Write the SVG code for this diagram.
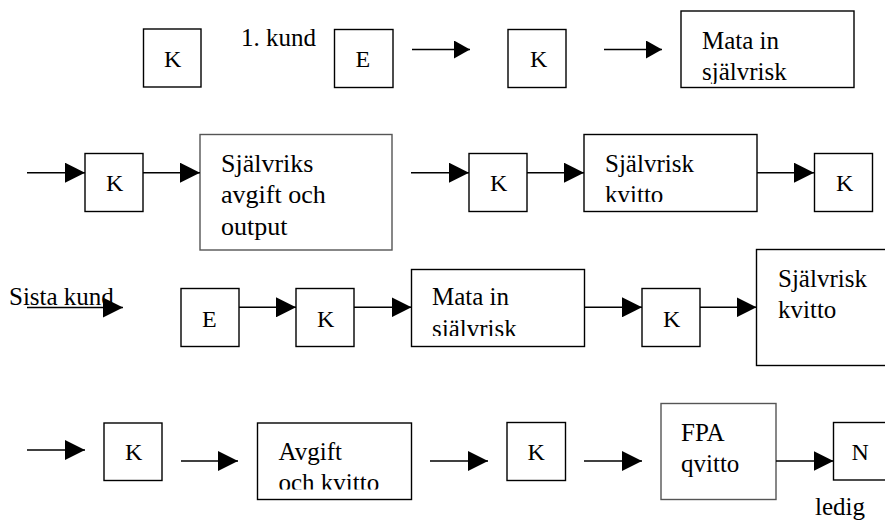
<svg xmlns="http://www.w3.org/2000/svg" width="885" height="521" viewBox="0 0 885 521">
<style>
.b{fill:#fff;stroke:#000;stroke-width:1.4}
.g{fill:#fff;stroke:#555;stroke-width:1.4}
.c line{stroke:#000;stroke-width:1.4;marker-end:url(#ah)}
.c line.s{marker-end:url(#as)}
</style>
<defs>
<marker id="ah" viewBox="0 0 20 20" refX="20" refY="10" markerWidth="20" markerHeight="20" markerUnits="userSpaceOnUse" orient="auto"><path d="M0,0L20,10L0,20z" fill="#000"/></marker>
<marker id="as" viewBox="0 0 16 18" refX="16" refY="9" markerWidth="16" markerHeight="18" markerUnits="userSpaceOnUse" orient="auto"><path d="M0,0L16,9L0,18z" fill="#000"/></marker>
<clipPath id="c1"><rect x="681" y="11" width="173" height="73"/></clipPath>
<clipPath id="c2"><rect x="584" y="134" width="173" height="68"/></clipPath>
<clipPath id="c3"><rect x="412" y="269" width="172" height="67"/></clipPath>
<clipPath id="c4"><rect x="258" y="423" width="154" height="66.5"/></clipPath>
</defs>
<g font-family="Liberation Serif" font-size="25" fill="#000">
<g id="r1k1"><rect class="b" x="143.5" y="29" width="57.5" height="58"/><text font-size="24" x="164" y="66.5">K</text></g>
<text id="kund1" x="241" y="46">1. kund</text>
<g id="r1e"><rect class="b" x="334.5" y="29.5" width="58.5" height="58"/><text font-size="24" x="355.5" y="66.5">E</text></g>
<g id="r1k2"><rect class="b" x="508" y="29.5" width="58" height="58"/><text font-size="24" x="530" y="66.5">K</text></g>
<g id="r1mata"><rect class="b" x="681" y="11" width="173" height="76.5"/><g clip-path="url(#c1)"><text x="702" y="48.5">Mata in</text><text x="702" y="80">självrisk</text></g></g>

<g id="r2k1"><rect class="b" x="85" y="153.5" width="58" height="58"/><text font-size="24" x="106" y="190.5">K</text></g>
<g id="r2sjal" font-size="26"><rect class="g" x="200" y="134.5" width="192" height="115.5"/><text x="221" y="171.5">Självriks</text><text x="221" y="203">avgift och</text><text x="221" y="235">output</text></g>
<g id="r2k2"><rect class="b" x="469" y="153.5" width="58" height="58"/><text font-size="24" x="490" y="190.5">K</text></g>
<g id="r2kv"><rect class="b" x="584" y="134.5" width="173" height="77"/><g clip-path="url(#c2)"><text x="605" y="171.5">Självrisk</text><text x="605" y="202.5">kvitto</text></g></g>
<g id="r2k3"><rect class="b" x="814.5" y="153.5" width="58" height="58"/><text font-size="24" x="836" y="190.5">K</text></g>

<text id="sista" x="9" y="305">Sista kund</text>
<g id="r3e"><rect class="b" x="181" y="288.5" width="58" height="58"/><text font-size="24" x="202" y="326.5">E</text></g>
<g id="r3k1"><rect class="b" x="296" y="288.5" width="58" height="58"/><text font-size="24" x="317" y="326.5">K</text></g>
<g id="r3mata"><rect class="b" x="411.5" y="269.5" width="173" height="77"/><g clip-path="url(#c3)"><text x="432" y="305">Mata in</text><text x="432" y="336.5">självrisk</text></g></g>
<g id="r3k2"><rect class="b" x="642" y="288.5" width="58" height="58"/><text font-size="24" x="663" y="326.5">K</text></g>
<g id="r3kv"><rect class="b" x="756.5" y="249.5" width="140" height="116"/><text x="778" y="286.5">Självrisk</text><text x="778" y="318">kvitto</text></g>

<g id="r4k1"><rect class="b" x="104" y="423" width="58" height="57.5"/><text font-size="24" x="125" y="460">K</text></g>
<g id="r4avg"><rect class="b" x="257.5" y="423" width="154" height="76.5"/><g clip-path="url(#c4)"><text x="278.5" y="459.5">Avgift</text><text x="278.5" y="490.5">och kvitto</text></g></g>
<g id="r4k2"><rect class="b" x="507" y="422.5" width="58.5" height="58"/><text font-size="24" x="527.5" y="460">K</text></g>
<g id="r4fpa"><rect class="g" x="661" y="403.5" width="115" height="96"/><text x="681" y="441">FPA</text><text x="681" y="471.5">qvitto</text></g>
<g id="r4n"><rect class="b" x="833.5" y="422.5" width="60" height="57.5"/><text font-size="24" x="851.5" y="460">N</text></g>
<text id="ledig" x="815" y="515">ledig</text>
</g>
<g id="connectors" class="c">
<line class="s" x1="412" y1="49.5" x2="470" y2="49.5"/>
<line class="s" x1="604" y1="49.5" x2="662" y2="49.5"/>
<line x1="27" y1="172.7" x2="85" y2="172.7"/>
<line x1="143" y1="172.7" x2="200" y2="172.7"/>
<line x1="411" y1="172.7" x2="469" y2="172.7"/>
<line x1="527" y1="172.7" x2="584" y2="172.7"/>
<line x1="757" y1="172.7" x2="814" y2="172.7"/>
<line x1="27" y1="307.5" x2="123" y2="307.5"/>
<line x1="239" y1="307.3" x2="296" y2="307.3"/>
<line x1="354" y1="307.3" x2="411.5" y2="307.3"/>
<line x1="584.5" y1="307.3" x2="642" y2="307.3"/>
<line x1="700" y1="307.3" x2="756.5" y2="307.3"/>
<line x1="27" y1="450" x2="85" y2="450"/>
<line x1="181" y1="461" x2="238" y2="461"/>
<line x1="430" y1="461" x2="488" y2="461"/>
<line x1="584" y1="461" x2="642" y2="461"/>
<line x1="776" y1="461" x2="833.5" y2="461"/>
</g>
</svg>
